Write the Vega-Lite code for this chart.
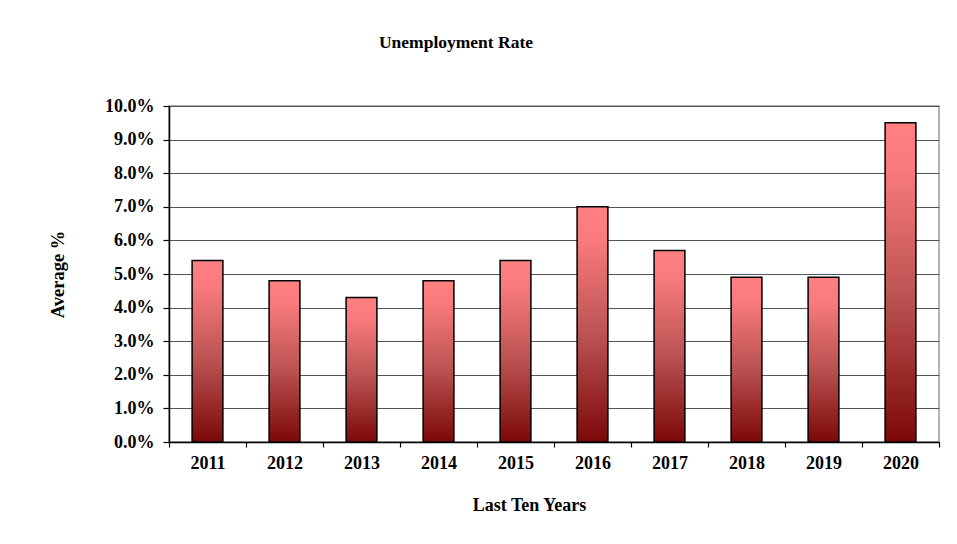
{
  "$schema": "https://vega.github.io/schema/vega-lite/v6.json",
  "width": 770,
  "height": 336,
  "autosize": {"type": "none"},
  "padding": {"left": 169, "top": 106, "right": 18, "bottom": 102},
  "background": "white",
  "title": {
    "text": "Unemployment Rate",
    "font": "Liberation Serif",
    "fontSize": 17.5,
    "fontWeight": "bold",
    "color": "#000000",
    "anchor": "middle",
    "dx": -98,
    "offset": 46
  },
  "data": {
    "values": [
      {"year": "2011", "rate": 0.054},
      {"year": "2012", "rate": 0.048},
      {"year": "2013", "rate": 0.043},
      {"year": "2014", "rate": 0.048},
      {"year": "2015", "rate": 0.054},
      {"year": "2016", "rate": 0.070},
      {"year": "2017", "rate": 0.057},
      {"year": "2018", "rate": 0.049},
      {"year": "2019", "rate": 0.049},
      {"year": "2020", "rate": 0.095}
    ]
  },
  "mark": {
    "type": "bar",
    "width": {"band": 0.4},
    "stroke": "#000000",
    "strokeWidth": 1.5,
    "color": {
      "gradient": "linear",
      "x1": 0, "y1": 0, "x2": 0, "y2": 1,
      "stops": [
        {"offset": 0, "color": "#ff8080"},
        {"offset": 0.15, "color": "#f87a7a"},
        {"offset": 0.55, "color": "#bb5252"},
        {"offset": 1, "color": "#7c0808"}
      ]
    }
  },
  "encoding": {
    "x": {
      "field": "year",
      "type": "nominal",
      "scale": {"paddingInner": 0, "paddingOuter": 0},
      "axis": {
        "title": "Last Ten Years",
        "labelAngle": 0,
        "tickBand": "extent",
        "tickSize": 5,
        "tickColor": "#000000",
        "domainColor": "#000000",
        "labelPadding": 7,
        "titleX": 360,
        "titleY": 68,
        "titleAlign": "center",
        "titleBaseline": "alphabetic",
        "grid": false
      }
    },
    "y": {
      "field": "rate",
      "type": "quantitative",
      "scale": {"domain": [0, 0.1], "nice": false},
      "axis": {
        "title": "Average %",
        "format": ".1%",
        "values": [0, 0.01, 0.02, 0.03, 0.04, 0.05, 0.06, 0.07, 0.08, 0.09, 0.1],
        "tickSize": 6,
        "tickColor": "#000000",
        "domainColor": "#000000",
        "labelPadding": 9,
        "gridColor": "#555555",
        "gridWidth": 1,
        "gridOpacity": 1,
        "titleX": -106,
        "titleY": 168,
        "titleFontSize": 18.5,
        "titleAlign": "center",
        "titleBaseline": "alphabetic",
        "titleAngle": -90
      }
    }
  },
  "config": {
    "view": {"stroke": "#9a9a9a", "strokeWidth": 1.5},
    "axis": {
      "labelFont": "Liberation Serif",
      "labelFontSize": 18,
      "labelFontWeight": "bold",
      "labelColor": "#000000",
      "titleFont": "Liberation Serif",
      "titleFontSize": 18,
      "titleFontWeight": "bold",
      "titleColor": "#000000",
      "domainWidth": 1.5,
      "tickWidth": 1.2
    }
  }
}
